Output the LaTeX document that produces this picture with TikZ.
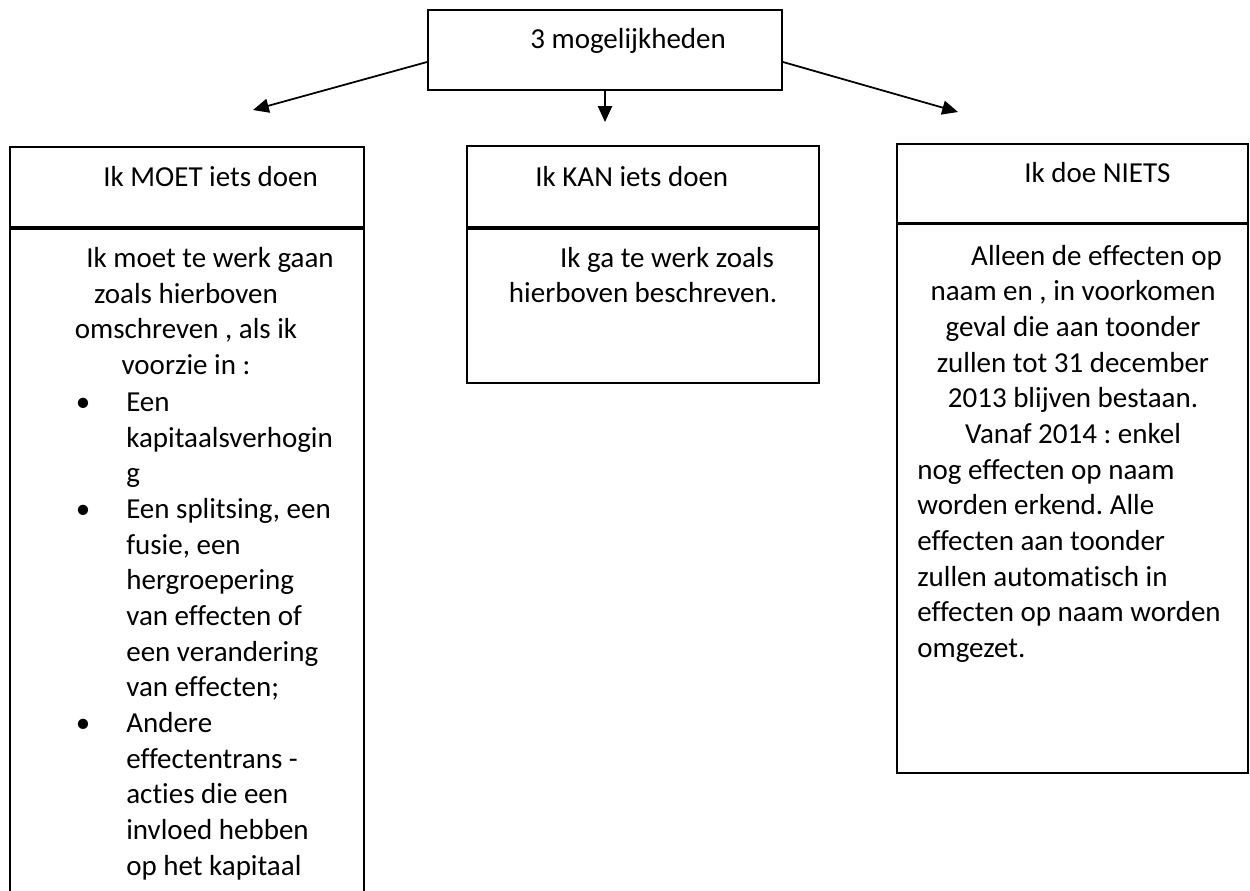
\documentclass[tikz,border=0pt]{standalone}
\usepackage{fontspec}
\setmainfont[Ligatures=NoCommon]{Carlito}
\usetikzlibrary{arrows.meta}
\frenchspacing
\tikzset{
  box/.style={draw, line width=1.1pt, inner sep=0pt},
  txt/.style={inner sep=0pt, font=\fontsize{16.5}{20.3}\selectfont},
  arr/.style={line width=1pt, -{Triangle[length=9pt,width=8pt]}},
}
\newcommand{\bul}{\llap{\textbullet\hspace{0.72cm}}}

\begin{document}
\begin{tikzpicture}[x=0.02cm, y=-0.02cm]
  \useasboundingbox (0,0) rectangle (1250,890);

  % top box
  \node[box, minimum width=7.08cm, minimum height=1.6cm] (top) at (605,50) {};
  \node[txt, anchor=base west] (toptxt) at (530,48) {3 mogelijkheden};

  % arrow ends
  \coordinate (tipL) at (253,110);
  \coordinate (tipM) at (605,122);
  \coordinate (tipR) at (958,112);
  \draw[arr] ([yshift=-0.24cm]top.west) -- (tipL);
  \draw[arr] (top.south) -- (tipM);
  \draw[arr] ([yshift=-0.24cm]top.east) -- (tipR);

  % headers
  \node[box, minimum width=7.08cm, minimum height=1.6cm] (moet) at (187,187) {};
  \node[box, minimum width=7.04cm, minimum height=1.62cm] (kan) at (643,186.5) {};
  \node[box, minimum width=7.02cm, minimum height=1.58cm] (niets) at (1072.5,183.5) {};
  \node[txt, anchor=base west] (moettxt) at (103,186) {Ik MOET iets doen};
  \node[txt, anchor=base west] (kantxt) at (535,186) {Ik KAN iets doen};
  \node[txt, anchor=base west] (nietstxt) at (1024,182) {Ik doe NIETS};

  % bodies
  \node[box, minimum width=7.08cm, minimum height=13.42cm] (moetbox) at (187,564.5) {};
  \node[box, minimum width=7.04cm, minimum height=3.08cm] (kanbox) at (643,306) {};
  \node[box, minimum width=7.02cm, minimum height=10.98cm] (nietsbox) at (1072.5,498.5) {};

  % left text (base = last line)
  \node[txt, align=center, anchor=base] (moetA) at (186,374.4) {\hspace*{0.96cm}Ik moet te werk gaan\\ zoals hierboven\\ omschreven , als ik\\ voorzie in :};
  \node[txt, align=left, anchor=base west] (moetB) at (126,875) {\bul Een\\ kapitaalsverhogin\\ g\\ \bul Een splitsing, een\\ fusie, een\\ hergroepering\\ van effecten of\\ een verandering\\ van effecten;\\ \bul Andere\\ effectentrans -\\ acties die een\\ invloed hebben\\ op het kapitaal};

  % middle text
  \node[txt, align=center, anchor=base] (kanA) at (643,302.8) {\hspace*{0.96cm}Ik ga te werk zoals\\ hierboven beschreven.};

  % right text
  \node[txt, align=center, anchor=base] (nietsA) at (1073,443.5) {\hspace*{0.94cm}Alleen de effecten op\\ naam en , in voorkomen\\ geval die aan toonder\\ zullen tot 31 december\\ 2013 blijven bestaan.\\ Vanaf 2014 : enkel};
  \node[txt, align=left, anchor=base west] (nietsB) at (917,657.5) {nog effecten op naam\\ worden erkend. Alle\\ effecten aan toonder\\ zullen automatisch in\\ effecten op naam worden\\ omgezet.};
\end{tikzpicture}
\end{document}
